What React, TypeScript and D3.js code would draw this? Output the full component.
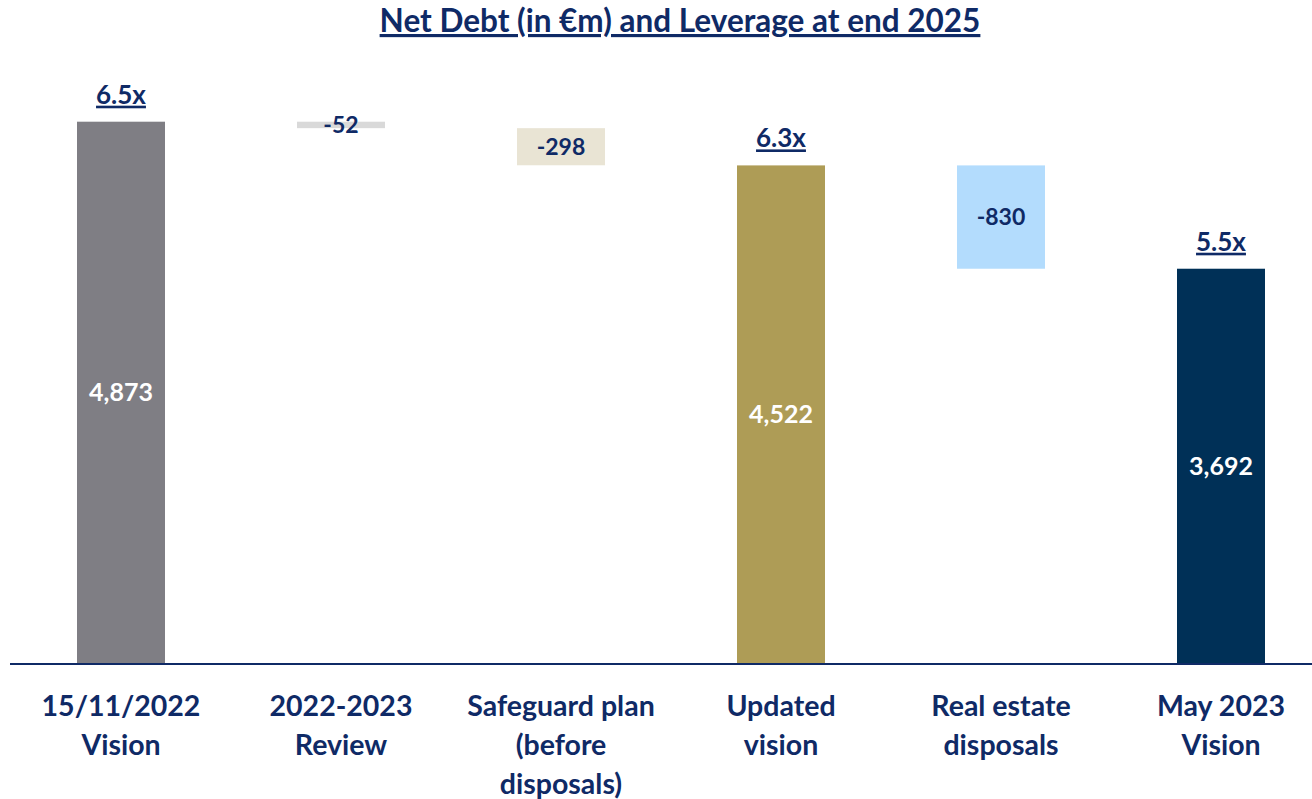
import React from "react";
import * as d3 from "d3";

const categories = [
  ["15/11/2022", "Vision"],
  ["2022-2023", "Review"],
  ["Safeguard plan", "(before", "disposals)"],
  ["Updated", "vision"],
  ["Real estate", "disposals"],
  ["May 2023", "Vision"],
];
const values = [4873, -52, -298, 4522, -830, 3692];
const isTotal = [true, false, false, true, false, true];
const leverage = ["6.5x", "", "", "6.3x", "", "5.5x"];
const valueLabels = ["4,873", "-52", "-298", "4,522", "-830", "3,692"];
const colors = ["#7F7E84", "#D9D9D9", "#E9E4D4", "#AE9C56", "#B3DCFD", "#003057"];

const W = 1312;
const H = 799;
const NAVY = "#0F2A66";
const FONT = "Lato, 'Open Sans', sans-serif";

export default function App() {
  const x = d3
    .scaleBand<number>()
    .domain(d3.range(categories.length))
    .range([11, 1331])
    .paddingInner(0.6)
    .paddingOuter(0.3);
  const y = d3.scaleLinear().domain([525, 4873]).range([663, 121.7]);

  let running = 0;
  const bars = values.map((v, i) => {
    let lo: number, hi: number;
    if (isTotal[i]) {
      lo = 525;
      hi = v;
      running = v;
    } else {
      hi = running;
      lo = running + v;
      running = lo;
    }
    return { i, lo, hi };
  });

  return (
    <svg
      width={W}
      height={H}
      style={{ position: "absolute", left: 0, top: 0, background: "#fff" }}
      fontFamily={FONT}
    >
      <text
        x={680}
        y={32}
        textAnchor="middle"
        fontSize={31.5}
        fontWeight="bold"
        fill={NAVY}
        textDecoration="underline"
      >
        Net Debt (in €m) and Leverage at end 2025
      </text>
      {bars.map((b) => {
        const bx = x(b.i)!;
        const bw = x.bandwidth();
        const top = y(b.hi);
        const bot = y(b.lo);
        const cx = bx + bw / 2;
        return (
          <g key={b.i}>
            <rect x={bx} y={top} width={bw} height={bot - top} fill={colors[b.i]} />
            <text
              x={cx}
              y={(top + bot) / 2}
              dy="0.35em"
              textAnchor="middle"
              fontSize={isTotal[b.i] ? 25 : 23}
              fontWeight="bold"
              fill={isTotal[b.i] ? "#ffffff" : NAVY}
            >
              {valueLabels[b.i]}
            </text>
            {leverage[b.i] && (
              <text
                x={cx}
                y={top - 18}
                textAnchor="middle"
                fontSize={26}
                fontWeight="bold"
                fill={NAVY}
                textDecoration="underline"
              >
                {leverage[b.i]}
              </text>
            )}
            {categories[b.i].map((line, j) => (
              <text
                key={j}
                x={cx}
                y={716 + j * 39}
                textAnchor="middle"
                fontSize={28.5}
                fontWeight="bold"
                fill={NAVY}
              >
                {line}
              </text>
            ))}
          </g>
        );
      })}
      <line x1={10} x2={W} y1={664} y2={664} stroke={NAVY} strokeWidth={2} />
    </svg>
  );
}
